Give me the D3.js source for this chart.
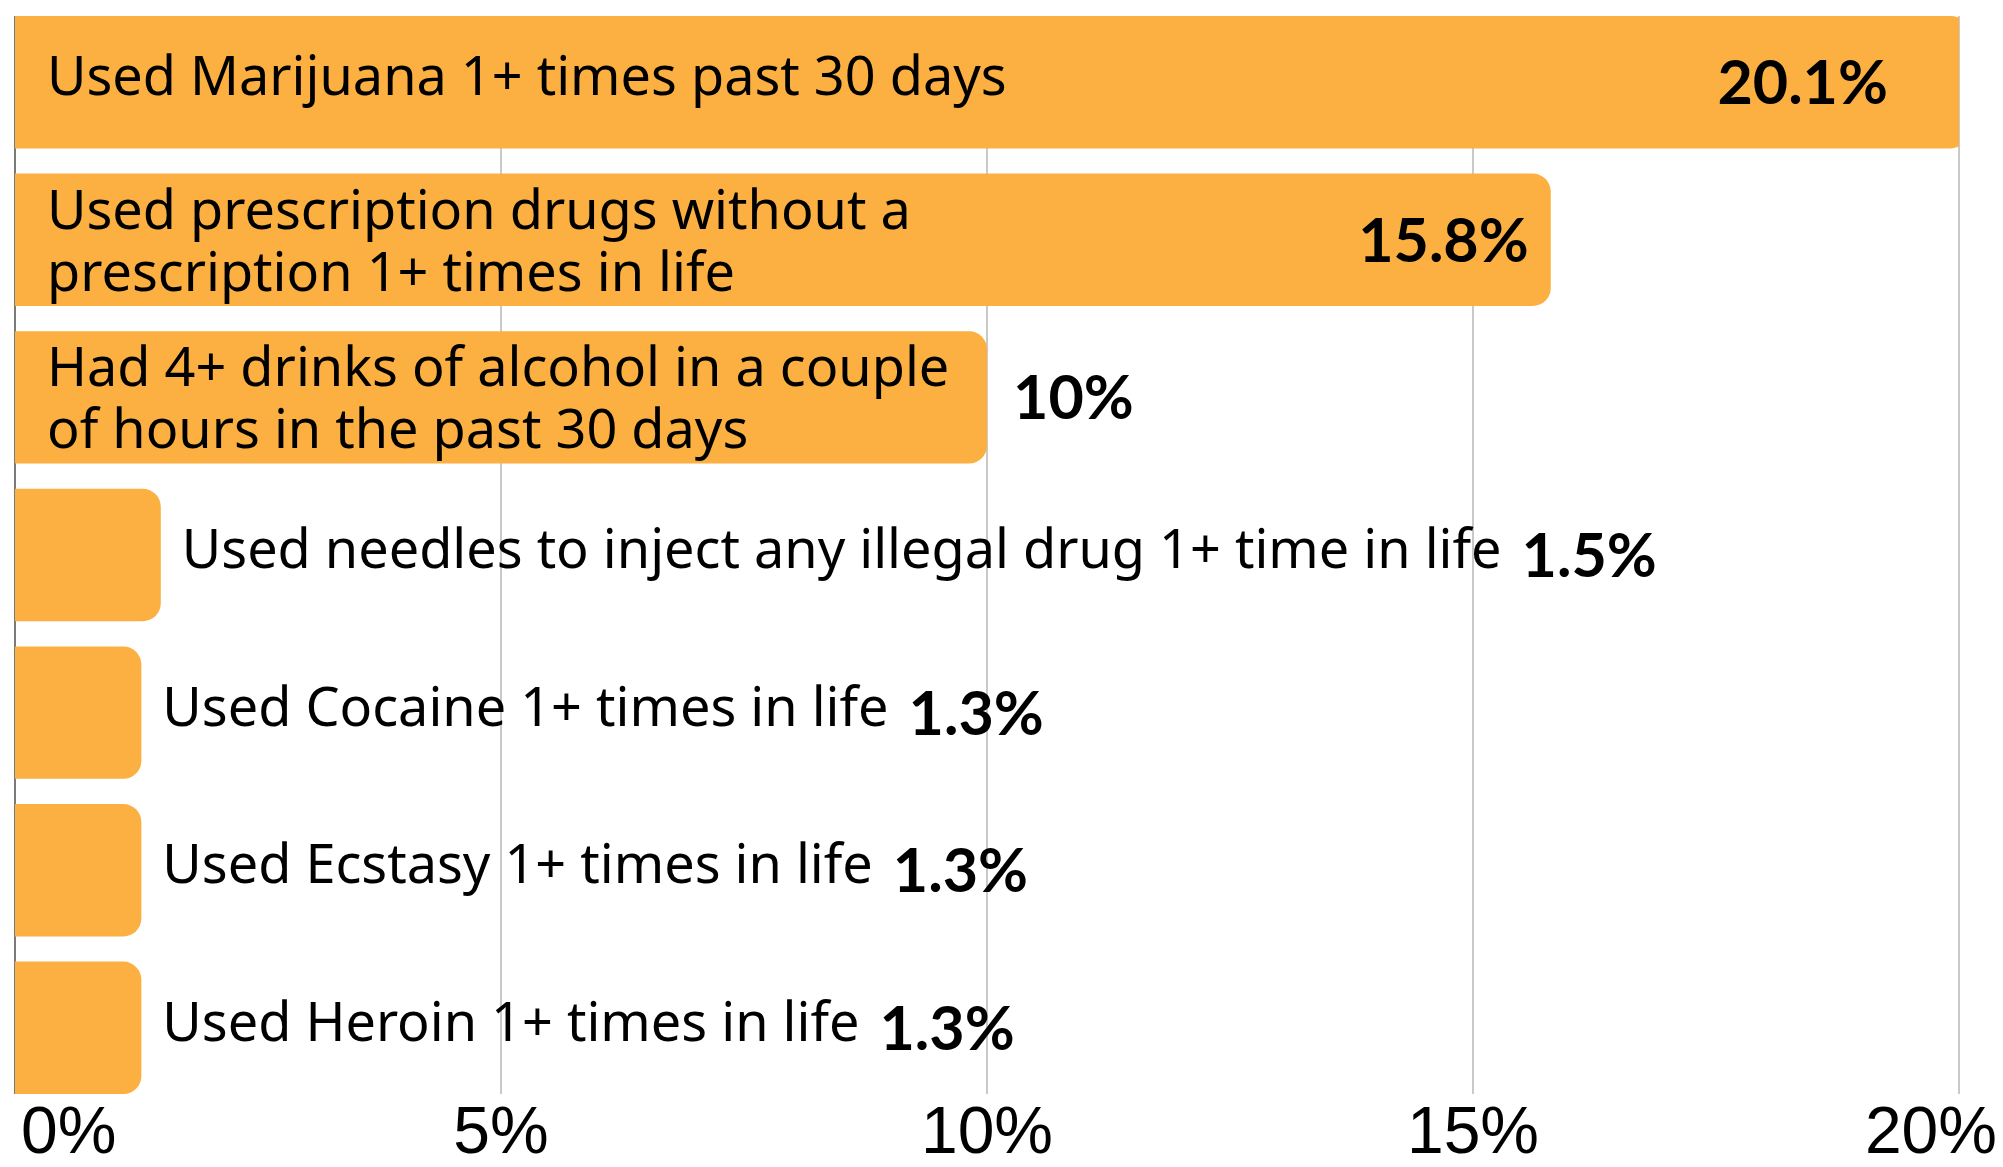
<!DOCTYPE html>
<html lang="en">
<head>
<meta charset="UTF-8">
<title>Substance use bar chart</title>
<script src="https://d3js.org/d3.v7.min.js"></script>
<style>
  html, body { margin: 0; padding: 0; background: #fff; }
  svg { display: block; }
  .label { font-family: "Noto Sans", sans-serif; font-size: 54px; fill: #000; }
  .value { font-family: Lato, sans-serif; font-weight: 700; font-size: 61px; fill: #000; }
  .tick-label { font-family: "Liberation Sans", Arial, sans-serif; font-size: 66px; fill: #000; }
</style>
</head>
<body>
<svg width="2003" height="1167"></svg>
<script>
  // data
  const categories = ["marijuana", "prescription", "alcohol", "needles", "cocaine", "ecstasy", "heroin"];
  const labelLines = [
    ["Used Marijuana 1+ times past 30 days"],
    ["Used prescription drugs without a", "prescription 1+ times in life"],
    ["Had 4+ drinks of alcohol in a couple", "of hours in the past 30 days"],
    ["Used needles to inject any illegal drug 1+ time in life"],
    ["Used Cocaine 1+ times in life"],
    ["Used Ecstasy 1+ times in life"],
    ["Used Heroin 1+ times in life"]
  ];
  const values = [20.1, 15.8, 10, 1.5, 1.3, 1.3, 1.3];
  const valueLabels = ["20.1%", "15.8%", "10%", "1.5%", "1.3%", "1.3%", "1.3%"];
  const ticks = [0, 5, 10, 15, 20];
  const tickLabels = ["0%", "5%", "10%", "15%", "20%"];

  let svg = d3.select("svg");
  let margins = {left: 15, right: 44, top: 16, bottom: 73};
  let W = 2003, H = 1167;

  let xScale = d3.scaleLinear().domain([0, 20]).range([margins.left, W - margins.right]);
  let yScale = d3.scaleBand().domain(categories).range([margins.top, H - margins.bottom]).paddingInner(0.16);
  let bw = yScale.bandwidth();
  let r = 18;

  // clip bars to the axis range (the top bar runs past 20%)
  svg.append("clipPath").attr("id", "plot")
    .append("rect")
    .attr("x", 0).attr("y", 0)
    .attr("width", xScale(20)).attr("height", H);

  // gridlines
  svg.append("g").selectAll("line").data(ticks.slice(1)).enter().append("line")
    .attr("x1", d => xScale(d)).attr("x2", d => xScale(d))
    .attr("y1", margins.top).attr("y2", H - margins.bottom)
    .attr("stroke", "#c9c9c9").attr("stroke-width", 2);

  // zero line
  svg.append("line")
    .attr("x1", xScale(0)).attr("x2", xScale(0))
    .attr("y1", margins.top).attr("y2", H - margins.bottom)
    .attr("stroke", "#7a7a7a").attr("stroke-width", 2);

  // bars, square on the left, rounded on the right
  function barPath(v, c) {
    let x0 = xScale(0), x1 = xScale(v), y0 = yScale(c), y1 = y0 + bw;
    return "M" + x0 + "," + y0 + "H" + (x1 - r) +
      "A" + r + "," + r + " 0 0 1 " + x1 + "," + (y0 + r) +
      "V" + (y1 - r) +
      "A" + r + "," + r + " 0 0 1 " + (x1 - r) + "," + y1 +
      "H" + x0 + "Z";
  }
  svg.append("g").attr("clip-path", "url(#plot)")
    .selectAll("path").data(values).enter().append("path")
    .attr("d", (d, i) => barPath(d, categories[i]))
    .attr("fill", "#fbb041");

  // category labels: inside the long bars, to the right of the short ones
  let rows = svg.append("g").selectAll("g").data(values).enter().append("g");
  rows.each(function (v, i) {
    let g = d3.select(this);
    let c = categories[i];
    let mid = yScale(c) + bw / 2;
    let lines = labelLines[i];
    let inside = v >= 5;
    let lx = inside ? xScale(0) + 32 : xScale(v) + 21;
    let first = mid + 13 - (lines.length - 1) * 24;
    let t = g.append("text").attr("class", "label").attr("x", lx);
    lines.forEach((l, k) => {
      t.append("tspan").attr("x", lx).attr("y", first + k * 62).text(l);
    });
    let labelEnd = lx + d3.max(t.selectAll("tspan").nodes(), n => n.getComputedTextLength());

    let vx, anchor = "start";
    if (v >= 15) {
      anchor = "end";
      vx = Math.min(xScale(v), xScale(20)) - (v > 20 ? 71 : 22);
    } else if (inside) {
      vx = xScale(v) + 26;
    } else {
      vx = labelEnd + 20;
    }
    g.append("text").attr("class", "value")
      .attr("x", vx).attr("y", mid + 22)
      .attr("text-anchor", anchor)
      .text(valueLabels[i]);
  });

  // x axis tick labels
  svg.append("g").selectAll("text").data(ticks).enter().append("text")
    .attr("class", "tick-label")
    .attr("x", (d, i) => i === 0 ? xScale(d) + 6 : (i === ticks.length - 1 ? xScale(d) + 38 : xScale(d)))
    .attr("y", 1153)
    .attr("text-anchor", (d, i) => i === 0 ? "start" : (i === ticks.length - 1 ? "end" : "middle"))
    .text((d, i) => tickLabels[i]);
</script>
</body>
</html>
